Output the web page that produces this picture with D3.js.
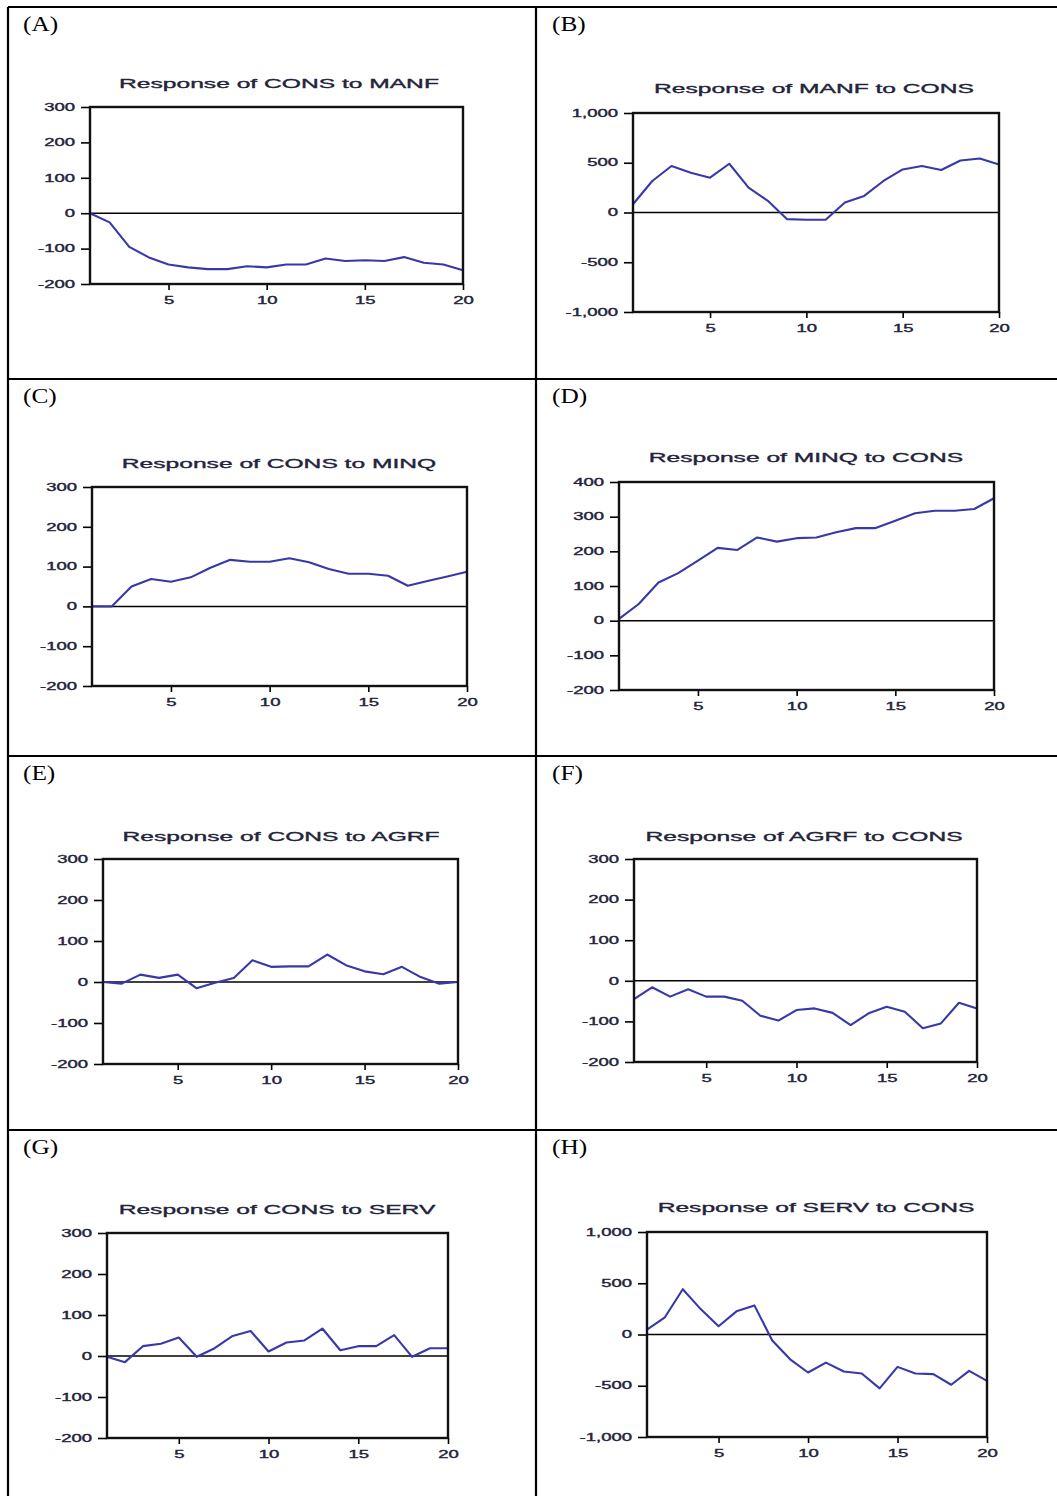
<!DOCTYPE html>
<html>
<head>
<meta charset="utf-8">
<script src="https://cdn.jsdelivr.net/npm/d3@7"></script>
<style>
  body { margin: 0; background: #fff; }
  svg { display: block; }
</style>
</head>
<body>
<script>
// Impulse-response horizons (periods 1..20)
const horizon = d3.range(1, 21);

// Responses read period by period
const consToManf = [0, -26, -95, -125, -145, -153, -158, -158, -150, -153, -145, -145, -128, -135, -133, -135, -124, -140, -145, -161];
const manfToCons = [83, 317, 467, 400, 350, 490, 250, 117, -67, -73, -73, 100, 167, 317, 433, 467, 427, 523, 543, 483];
const consToMinq = [0, 0, 50, 69, 62, 73, 97, 117, 112, 112, 121, 111, 94, 82, 82, 77, 52, 64, 75, 87];
const minqToCons = [5, 48, 110, 137, 173, 210, 204, 240, 228, 238, 240, 255, 267, 267, 288, 310, 317, 317, 322, 353];
const consToAgrf = [0, -4, 18, 10, 18, -15, -2, 10, 53, 37, 38, 38, 67, 41, 26, 19, 37, 12, -4, 0];
const agrfToCons = [-45, -16, -39, -21, -39, -39, -49, -86, -98, -72, -68, -79, -109, -80, -64, -76, -117, -105, -54, -68];
const consToServ = [-2, -15, 24, 30, 45, -2, 19, 49, 61, 11, 33, 38, 67, 14, 24, 24, 51, -2, 19, 19];
const servToCons = [48, 168, 442, 248, 81, 226, 284, -58, -242, -371, -274, -361, -381, -526, -316, -381, -387, -490, -355, -452];

const panelLabels = ["(A)", "(B)", "(C)", "(D)", "(E)", "(F)", "(G)", "(H)"];
const panelTitles = [
  "Response of CONS to MANF", "Response of MANF to CONS",
  "Response of CONS to MINQ", "Response of MINQ to CONS",
  "Response of CONS to AGRF", "Response of AGRF to CONS",
  "Response of CONS to SERV", "Response of SERV to CONS"
];
const series = [consToManf, manfToCons, consToMinq, minqToCons, consToAgrf, agrfToCons, consToServ, servToCons];

const smallTicks = [-200, -100, 0, 100, 200, 300];
const largeTicks = [-1000, -500, 0, 500, 1000];
const minqTicks = [-200, -100, 0, 100, 200, 300, 400];
const yTickSets = [smallTicks, largeTicks, smallTicks, minqTicks, smallTicks, smallTicks, smallTicks, largeTicks];
const xTickValues = [5, 10, 15, 20];

// Page geometry
const W = 1057, H = 1496;
const gridLeft = 8, gridTop = 7, colSplit = 536;
const rowLines = [379, 756, 1130];
const rowTops = [gridTop, 379, 756, 1130];

// Plot boxes [left, top, right, bottom] and title anchors [cx, baseline]
const frames = [
  [90, 107, 463, 284], [633, 113, 999, 312],
  [92, 487, 467, 686], [619, 482, 994, 690],
  [103, 859, 458, 1064], [634, 859, 977, 1062],
  [107, 1233, 448, 1438], [647, 1232, 987, 1437]
];
const titleAnchors = [
  [279, 88], [814, 93],
  [279, 468], [806, 462],
  [281, 841], [804, 841],
  [277, 1214], [816, 1212]
];

const lineColor = "#3838a8";
const inkColor = "#23233a";
const sans = "'Liberation Sans', Arial, Helvetica, sans-serif";
const stretch = 1.85;   // wide sans lettering of the panels
const fmt = d3.formatLocale({ decimal: ".", thousands: ",", grouping: [3], currency: ["", ""], minus: "-" }).format(",");

const svg = d3.select("body").append("svg")
  .attr("width", W).attr("height", H)
  .attr("viewBox", `0 0 ${W} ${H}`);

svg.append("rect").attr("width", W).attr("height", H).attr("fill", "#fff");

// Table rules
const rules = svg.append("g").attr("stroke", "#000").attr("stroke-width", 2.2);
rules.append("line").attr("x1", gridLeft).attr("x2", W).attr("y1", gridTop).attr("y2", gridTop);
rules.append("line").attr("x1", gridLeft).attr("x2", gridLeft).attr("y1", gridTop).attr("y2", H);
rules.append("line").attr("x1", colSplit).attr("x2", colSplit).attr("y1", gridTop).attr("y2", H);
rowLines.forEach(y => rules.append("line").attr("x1", gridLeft).attr("x2", W).attr("y1", y).attr("y2", y));

// Slightly heavier lettering for chart text
function ink(sel, size) {
  sel.attr("font-family", sans)
    .attr("font-size", size)
    .attr("fill", inkColor)
    .attr("stroke", inkColor)
    .attr("stroke-width", 0.35);
}

panelTitles.forEach((title, i) => {
  const col = i % 2, row = Math.floor(i / 2);
  const [l, t, r, b] = frames[i];
  const ticks = yTickSets[i];
  const g = svg.append("g");

  // Panel letter
  const lx = col === 0 ? 23 : 552;
  g.append("text")
    .attr("transform", `translate(${lx},${rowTops[row] + 24}) scale(1.15,1)`)
    .attr("font-family", "'Liberation Serif', 'Times New Roman', serif")
    .attr("font-size", 22)
    .attr("fill", "#000")
    .text(panelLabels[i]);

  // Chart title
  g.append("text")
    .attr("transform", `translate(${titleAnchors[i][0]},${titleAnchors[i][1]}) scale(${stretch},1)`)
    .attr("text-anchor", "middle")
    .call(ink, 13.3)
    .text(title);

  const x = d3.scaleLinear().domain([1, 20]).range([l, r]);
  const y = d3.scaleLinear().domain(d3.extent(ticks)).range([b, t]);

  // Left axis
  const ya = g.append("g").attr("transform", `translate(${l},0)`)
    .call(d3.axisLeft(y).tickValues(ticks).tickFormat(fmt).tickSize(9).tickPadding(5));
  ya.select(".domain").remove();
  ya.selectAll(".tick line").attr("stroke", "#000").attr("stroke-width", 1.6);
  ya.selectAll(".tick text")
    .attr("x", null)
    .attr("transform", `translate(-15,0) scale(${stretch},1)`)
    .call(ink, 10);

  // Bottom axis
  const xa = g.append("g").attr("transform", `translate(0,${b})`)
    .call(d3.axisBottom(x).tickValues(xTickValues).tickFormat(d3.format("d")).tickSize(6).tickPadding(7));
  xa.select(".domain").remove();
  xa.selectAll(".tick line").attr("stroke", "#000").attr("stroke-width", 1.6);
  xa.selectAll(".tick text")
    .attr("transform", `scale(${stretch},1)`)
    .call(ink, 10);

  // Zero reference line
  g.append("line")
    .attr("x1", l).attr("x2", r)
    .attr("y1", y(0)).attr("y2", y(0))
    .attr("stroke", "#000").attr("stroke-width", 1.5);

  // Response path
  const line = d3.line().x((d, k) => x(horizon[k])).y(d => y(d));
  g.append("path")
    .datum(series[i])
    .attr("d", line)
    .attr("fill", "none")
    .attr("stroke", lineColor)
    .attr("stroke-width", 2.1)
    .attr("stroke-linejoin", "round");

  // Plot frame
  g.append("rect")
    .attr("x", l).attr("y", t)
    .attr("width", r - l).attr("height", b - t)
    .attr("fill", "none")
    .attr("stroke", "#111")
    .attr("stroke-width", 2.4);
});
</script>
</body>
</html>
